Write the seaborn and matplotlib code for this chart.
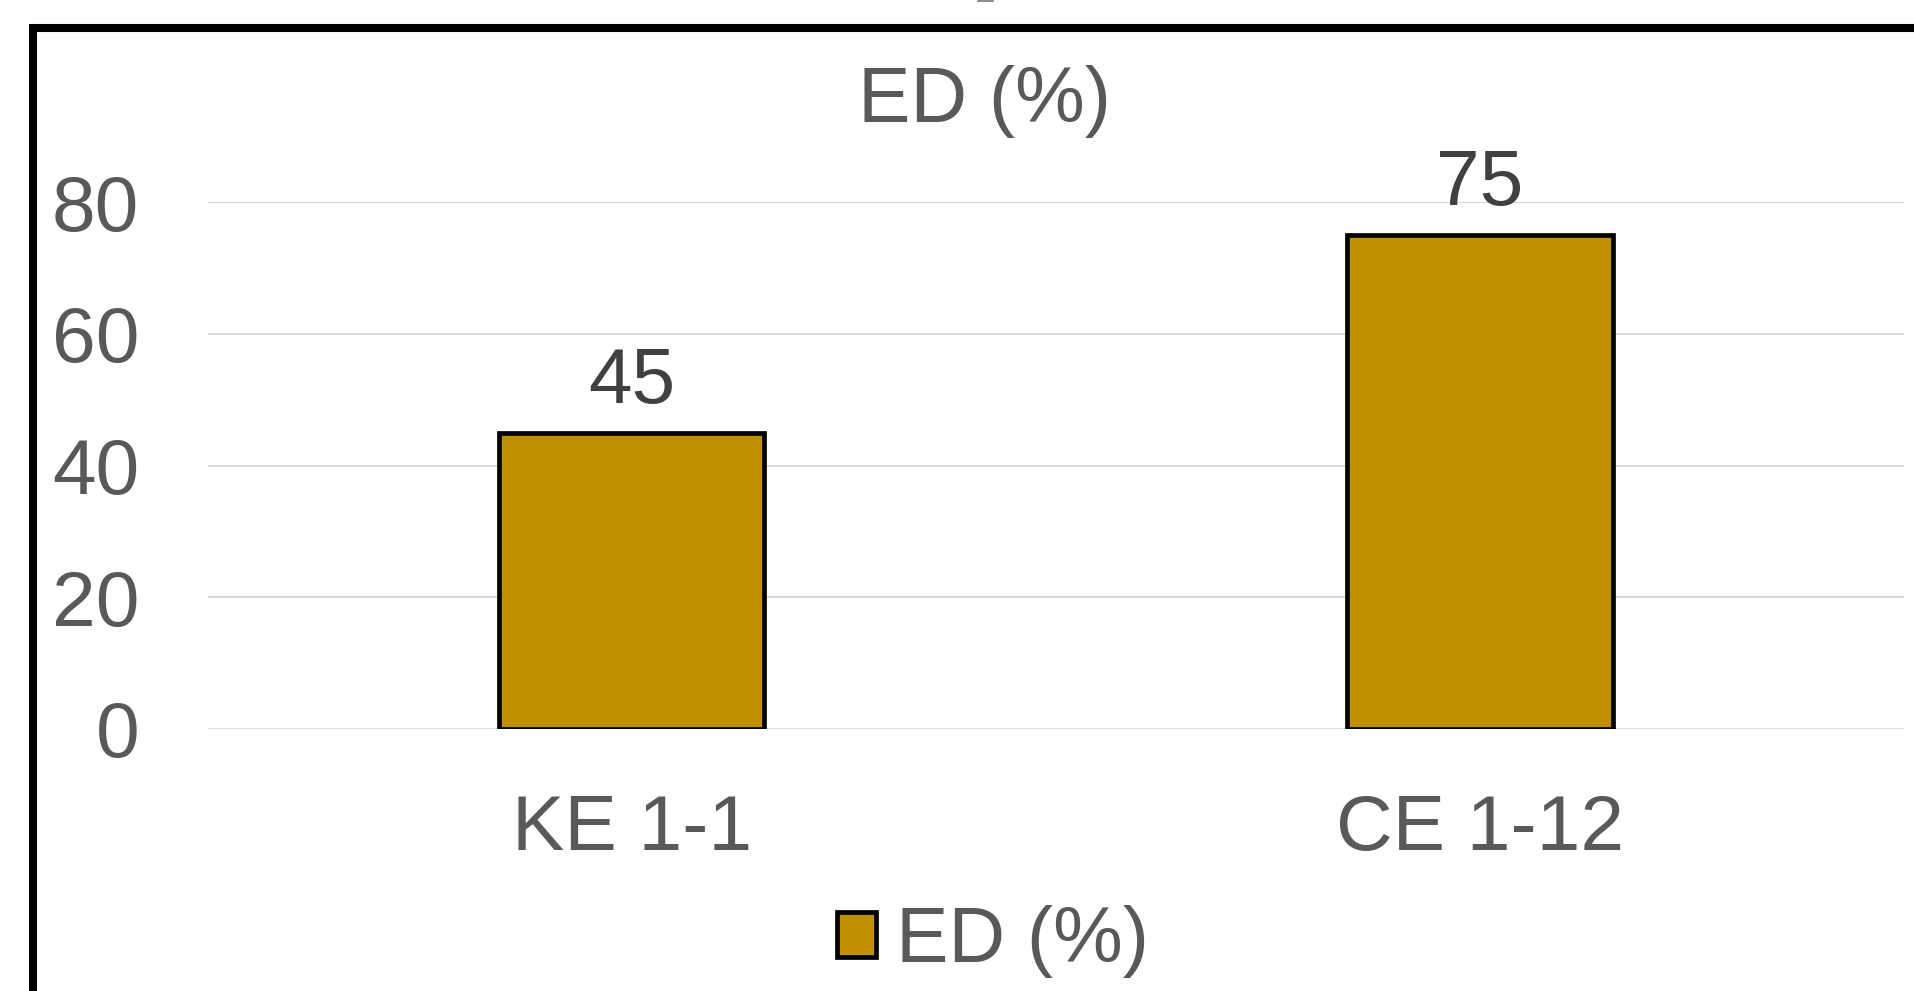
import matplotlib
matplotlib.use("Agg")
import matplotlib.pyplot as plt
from matplotlib.patches import Rectangle, Patch
from matplotlib.lines import Line2D
import seaborn as sns
import pandas as pd

categories = ["KE 1-1", "CE 1-12"]
values = [45, 75]
series_name = "ED (%)"
y_ticks = [0, 20, 40, 60, 80]

sns.set_theme(style="white")
plt.rcParams['font.family'] = ['Liberation Sans', 'DejaVu Sans']

W, H = 1914, 991
FS = 56.5
fig = plt.figure(figsize=(W / 100, H / 100), dpi=100)
fig.patch.set_facecolor("white")

ax = fig.add_axes([207.5 / W, 1 - 729 / H, 1696.5 / W, (729 - 202) / H])

df = pd.DataFrame({"cat": categories, "val": values})
sns.barplot(data=df, x="cat", y="val", color="#BF8F00", saturation=1,
            edgecolor="black", linewidth=3.4, width=0.313, ax=ax, zorder=3)

ax.set_ylim(0, 80)
ax.set_xlim(-0.5, 1.5)
ax.set_yticks(y_ticks)
ax.set_yticklabels([str(t) for t in y_ticks])
ax.set_xlabel("")
ax.set_ylabel("")
for s in ax.spines.values():
    s.set_visible(False)
ax.yaxis.grid(True, color="#D9D9D9", linewidth=1.5, zorder=0)
ax.xaxis.grid(False)
ax.set_axisbelow(True)
ax.tick_params(axis="y", length=0, pad=49, labelsize=FS, labelcolor="#595959")
ax.tick_params(axis="x", length=0, pad=46, labelsize=FS, labelcolor="#595959")
ax.set_facecolor("none")

for c in ax.containers:
    ax.bar_label(c, labels=[str(v) for v in values], padding=10,
                 fontsize=FS, color="#404040")

fig.text(984 / W, 1 - 122 / H, series_name, ha="center", va="baseline",
         fontsize=FS, color="#595959")

handle = Patch(facecolor="#BF8F00", edgecolor="black", linewidth=3.4)
fig.legend([handle], [series_name], loc="center", bbox_to_anchor=(993 / W, 1 - 942 / H),
           frameon=False, fontsize=FS, labelcolor="#595959",
           handlelength=0.5, handleheight=0.5, handletextpad=0.26)

# outer chart frame (partially cropped)
fig.add_artist(Rectangle((33 / W, -0.2), 1.3, 1.2 - 28 / H, transform=fig.transFigure,
                         fill=False, edgecolor="black", linewidth=5.8))
fig.add_artist(Line2D([978 / W, 993 / W], [1 - 1 / H, 1 - 1 / H], transform=fig.transFigure,
                      color="#8C8C8C", linewidth=1.5))

fig.savefig("out.png", dpi=100, facecolor="white")
